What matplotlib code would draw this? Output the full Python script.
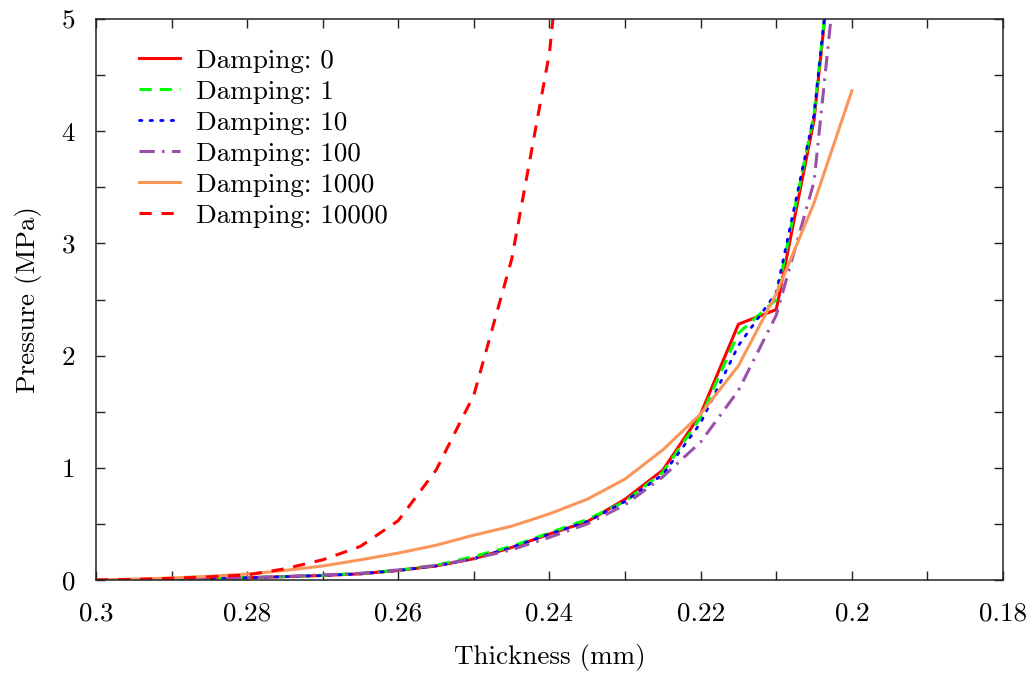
import matplotlib
matplotlib.use("Agg")
import matplotlib.pyplot as plt
from matplotlib.ticker import MultipleLocator, FuncFormatter

plt.rcParams['font.family'] = ['cmr10', 'DejaVu Serif']
plt.rcParams['mathtext.fontset'] = 'cm'
plt.rcParams['axes.formatter.use_mathtext'] = True

thickness = [0.300, 0.295, 0.290, 0.285, 0.280, 0.275, 0.270, 0.265, 0.260, 0.255,
             0.250, 0.245, 0.240, 0.235, 0.230, 0.225, 0.220, 0.215, 0.210, 0.205, 0.200]

p_damp0 = [0.0, 0.002, 0.006, 0.012, 0.020, 0.030, 0.040, 0.055, 0.085, 0.125,
           0.19, 0.29, 0.41, 0.52, 0.72, 0.98, 1.48, 2.28, 2.41, 4.10, 7.30]
p_damp1 = [0.0, 0.002, 0.006, 0.012, 0.020, 0.030, 0.042, 0.058, 0.088, 0.13,
           0.21, 0.30, 0.42, 0.54, 0.70, 0.96, 1.45, 2.20, 2.50, 4.15, 7.30]
p_damp10 = [0.0, 0.002, 0.006, 0.012, 0.020, 0.030, 0.040, 0.055, 0.085, 0.125,
            0.19, 0.29, 0.41, 0.52, 0.70, 0.94, 1.40, 2.09, 2.56, 4.15, 7.30]
p_damp100 = [0.0, 0.002, 0.006, 0.012, 0.020, 0.032, 0.045, 0.060, 0.090, 0.13,
             0.19, 0.27, 0.38, 0.50, 0.67, 0.92, 1.23, 1.69, 2.36, 3.55, 6.80]
p_damp1000 = [0.0, 0.008, 0.018, 0.033, 0.053, 0.085, 0.125, 0.18, 0.24, 0.31,
              0.40, 0.48, 0.59, 0.72, 0.90, 1.16, 1.48, 1.91, 2.55, 3.36, 4.36]

thickness_10000 = [0.300, 0.295, 0.290, 0.285, 0.280, 0.275, 0.270, 0.265, 0.260,
                   0.255, 0.250, 0.245, 0.240, 0.235]
p_damp10000 = [0.0, 0.005, 0.015, 0.028, 0.045, 0.10, 0.18, 0.30, 0.53,
               0.98, 1.65, 2.86, 4.70, 8.00]

labels = ['Damping: 0', 'Damping: 1', 'Damping: 10', 'Damping: 100',
          'Damping: 1000', 'Damping: 10000']

fig = plt.figure(figsize=(10.35, 6.75), dpi=100)
ax = fig.add_axes([96/1035, 1-580/675, (1003-96)/1035, (580-19)/675])

lw = 2.2
ax.plot(thickness, p_damp0, color='#ff0000', lw=lw, ls='-', label=labels[0])
ax.plot(thickness, p_damp1, color='#00ff00', lw=lw, dashes=(4, 2.6), label=labels[1])
ax.plot(thickness, p_damp10, color='#0000ff', lw=2.0, dashes=(0.9, 2.9),
        dash_capstyle='round', label=labels[2])
ax.plot(thickness, p_damp100, color='#9a4fa8', lw=lw, dashes=(5, 2.4, 0.8, 2.4), label=labels[3])
ax.plot(thickness, p_damp1000, color='#fa965a', lw=lw, ls='-', label=labels[4])
ax.plot(thickness_10000, p_damp10000, color='#ff0000', lw=lw, dashes=(4, 3.2), label=labels[5])

ax.set_xlim(0.3, 0.18)
ax.set_ylim(0, 5)
ax.xaxis.set_major_locator(MultipleLocator(0.02))
ax.xaxis.set_minor_locator(MultipleLocator(0.01))
ax.yaxis.set_major_locator(MultipleLocator(1))
ax.yaxis.set_minor_locator(MultipleLocator(0.5))
ax.xaxis.set_major_formatter(FuncFormatter(lambda v, p: '%g' % round(v, 4)))
ax.yaxis.set_major_formatter(FuncFormatter(lambda v, p: '%g' % round(v, 4)))
ax.tick_params(which='both', direction='in', top=True, right=True, length=6.5, width=1.0,
               color='#222222')
ax.tick_params(which='major', labelsize=19.5)
ax.tick_params(axis='x', which='major', pad=16)
ax.tick_params(axis='y', which='major', pad=15)
for s in ax.spines.values():
    s.set_linewidth(1.1)
    s.set_color('#222222')

ax.set_xlabel('Thickness (mm)', fontsize=19.5, labelpad=13)
ax.set_ylabel('Pressure (MPa)', fontsize=19.5, labelpad=14)

ax.legend(loc='upper left', bbox_to_anchor=(0.036, 0.966), frameon=False, fontsize=19.5,
          handlelength=1.5, handletextpad=0.6, labelspacing=0.26, borderaxespad=0)

fig.savefig('out.png', dpi=100)
